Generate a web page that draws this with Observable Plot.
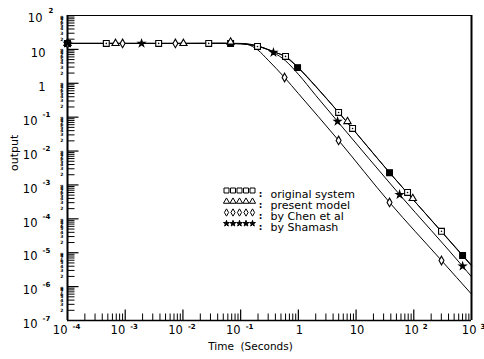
<!DOCTYPE html>
<html><head><meta charset="utf-8">
<script src="https://cdn.jsdelivr.net/npm/d3@7"></script>
<script src="https://cdn.jsdelivr.net/npm/@observablehq/plot@0.6"></script>
<style>body{margin:0;background:#fff}</style>
</head><body><div id="chart"></div>
<script>
// ---- axes / ticks ----
const xDomain = [1e-4, 1e3];
const yDomain = [1e-7, 1e2];
const xMajor = [1e-4, 1e-3, 1e-2, 1e-1, 1, 10, 100, 1000];
const xBase  = ["10", "10", "10", "10", "1", "10", "10", "10"];
const xExp   = ["-4", "-3", "-2", "-1", "", "", "2", "3"];
const yMajor = [1e2, 1e1, 1, 1e-1, 1e-2, 1e-3, 1e-4, 1e-5, 1e-6, 1e-7];
const yBase  = ["10", "10", "1", "10", "10", "10", "10", "10", "10", "10"];
const yExp   = ["2", "", "", "-1", "-2", "-3", "-4", "-5", "-6", "-7"];
const minorDigits = [2, 3, 4, 5, 6, 7, 8, 9];

// ---- series (lines) ----
const seriesNames = ["original system", "present model", "by Chen et al", "by Shamash"];
const origT = [1e-4, 0.01, 0.05, 0.1, 0.2, 0.4, 0.6, 1, 2, 5, 38, 300, 1000];
const origY = [15, 15, 15, 14.6, 12.2, 8.1, 6.2, 2.9, 0.82, 0.138, 2.3e-3, 4.3e-5, 4.3e-6];
const presT = [1e-4, 0.01, 0.05, 0.1, 0.2, 0.4, 0.6, 1, 2, 5, 40, 300, 1000];
const presY = [15, 15, 15.1, 14.8, 12.4, 8.2, 6.0, 2.8, 0.80, 0.137, 2.1e-3, 4.2e-5, 4.1e-6];
const chenT = [1e-4, 0.01, 0.05, 0.1, 0.13, 0.2, 0.3, 0.577, 1, 4.98, 38, 302, 1000];
const chenY = [15, 15, 15, 14.7, 14, 9.5, 4.8, 1.48, 0.5, 0.0206, 3.05e-4, 5.9e-6, 6.0e-7];
const shamT = [1e-4, 0.01, 0.05, 0.1, 0.2, 0.37, 0.6, 1, 2, 4.78, 56.8, 700, 1000];
const shamY = [15, 15, 15.2, 15, 12.6, 8.1, 4.6, 1.85, 0.44, 0.075, 5.2e-4, 4.0e-6, 1.95e-6];

// ---- series (markers) ----
const origMkT = [4.7e-4, 3.8e-3, 0.028, 0.196, 0.60, 4.98, 8.7, 78, 302];
const origMkY = [15, 15, 15, 12.2, 6.2, 0.138, 0.0465, 6.0e-4, 4.3e-5];
const origSolidT = [1e-4, 0.067, 0.97, 38, 701];
const origSolidY = [15, 15, 2.9, 2.3e-3, 8.3e-6];
const presMkT = [1e-4, 6.8e-4, 0.0102, 0.067, 7.1, 96];
const presMkY = [15, 15, 15, 16.5, 0.0746, 4.0e-4];
const chenMkT = [1e-4, 9.0e-4, 7.4e-3, 0.577, 4.98, 38, 302];
const chenMkY = [15, 15, 15, 1.48, 0.0206, 3.05e-4, 5.9e-6];
const shamMkT = [1e-4, 1.92e-3, 0.37, 4.78, 56.8, 701];
const shamMkY = [15, 15, 8.1, 0.075, 5.2e-4, 4.0e-6];

// ---- build tables ----
const rows = (T, Y) => T.map((t, i) => ({t, y: Y[i]}));
const xMinor = [], yMinor = [], yMinorRows = [];
for (let i = 0; i < xMajor.length - 1; i++) for (const d of minorDigits) xMinor.push(xMajor[i] * d);
for (let i = 1; i < yMajor.length; i++) for (const d of minorDigits) { yMinor.push(yMajor[i] * d); yMinorRows.push({v: yMajor[i] * d, lab: String(d)}); }
const xRows = xMajor.map((v, i) => ({v, base: xBase[i], exp: xExp[i]}));
const yRows = yMajor.map((v, i) => ({v, base: yBase[i], exp: yExp[i]}));

const FONT = "DejaVu Sans";
const L = 67, T = 15; // frame origin in px (margins)

const symbolsFor = [
  {symbol: "square", r: 3.3, fill: "white"},
  {symbol: "triangle", r: 2.7, fill: "white"},
  {symbol: "diamond", r: 2.6, fill: "white"},
  {symbol: "star", r: 2.2, fill: "black"}
];
const legendRowsY = [190, 201, 212, 223];

const legendMarks = [];
seriesNames.forEach((name, i) => {
  for (let k = 0; k < 5; k++) {
    legendMarks.push(Plot.dot([0], {frameAnchor: "top-left", dx: 226 - L + k * 6.5, dy: legendRowsY[i] - T,
      symbol: symbolsFor[i].symbol, r: symbolsFor[i].r * 0.85, fill: symbolsFor[i].fill, stroke: "black", strokeWidth: 1}));
  }
  legendMarks.push(Plot.text([":"], {frameAnchor: "top-left", dx: 260 - L, dy: legendRowsY[i] - T, text: d => d,
    fontSize: 9, fontWeight: "bold", fontFamily: FONT, textAnchor: "middle"}));
  legendMarks.push(Plot.text([name], {frameAnchor: "top-left", dx: 270 - L, dy: legendRowsY[i] - T, text: d => d,
    fontSize: 11, fontFamily: FONT, textAnchor: "start"}));
});

const lineOpts = {x: "t", y: "y", stroke: "black", strokeWidth: 1, curve: "monotone-x"};
const dotOpts = (i) => ({x: "t", y: "y", symbol: symbolsFor[i].symbol, r: symbolsFor[i].r, fill: symbolsFor[i].fill, stroke: "black", strokeWidth: 1.1});

const chart = Plot.plot({
  width: 484, height: 359,
  marginLeft: 67, marginRight: 13, marginTop: 15, marginBottom: 39,
  x: {type: "log", domain: xDomain, axis: null},
  y: {type: "log", domain: yDomain, axis: null},
  style: {fontFamily: FONT, background: "white", color: "black", overflow: "visible"},
  marks: [
    // frame
    Plot.ruleY([yDomain[1]], {stroke: "black", strokeWidth: 1.2}),
    Plot.ruleY([yDomain[0]], {stroke: "black", strokeWidth: 1.3}),
    Plot.ruleX([xDomain[0]], {stroke: "black", strokeWidth: 2}),
    Plot.ruleX([xDomain[1]], {stroke: "black", strokeWidth: 2}),
    // ticks (inward)
    Plot.vector(xMinor, {x: d => d, y: yDomain[0], length: 7, rotate: 0, anchor: "start", shape: "arrow", r: 0, stroke: "black", strokeWidth: 1, strokeLinecap: "butt"}),
    Plot.vector(xMajor.slice(1, -1), {x: d => d, y: yDomain[0], length: 11, rotate: 0, anchor: "start", shape: "arrow", r: 0, stroke: "black", strokeWidth: 1.2, strokeLinecap: "butt"}),
    Plot.vector(yMinor, {x: xDomain[0], y: d => d, length: 7, rotate: 90, anchor: "start", shape: "arrow", r: 0, stroke: "black", strokeWidth: 1, strokeLinecap: "butt"}),
    Plot.vector(yMajor.slice(1, -1), {x: xDomain[0], y: d => d, length: 11, rotate: 90, anchor: "start", shape: "arrow", r: 0, stroke: "black", strokeWidth: 1.2, strokeLinecap: "butt"}),
    // tiny minor labels on y axis
    Plot.text(yMinorRows, {y: "v", text: "lab", frameAnchor: "left", textAnchor: "end", dx: -4, fontSize: 4.5, fontFamily: FONT, fontWeight: "bold"}),
    // y tick labels
    Plot.text(yRows.filter(d => d.exp.startsWith("-")), {y: "v", text: "base", frameAnchor: "left", textAnchor: "end", dx: -30, dy: 4, fontSize: 11.5}),
    Plot.text(yRows.filter(d => d.exp.startsWith("-")), {y: "v", text: "exp", frameAnchor: "left", textAnchor: "start", dx: -25, dy: -2, fontSize: 7, fontWeight: "bold"}),
    Plot.text(yRows.filter(d => d.exp && !d.exp.startsWith("-")), {y: "v", text: "base", frameAnchor: "left", textAnchor: "end", dx: -25, dy: 3, fontSize: 11.5}),
    Plot.text(yRows.filter(d => d.exp && !d.exp.startsWith("-")), {y: "v", text: "exp", frameAnchor: "left", textAnchor: "start", dx: -19, dy: -5, fontSize: 7, fontWeight: "bold"}),
    Plot.text(yRows.filter(d => !d.exp), {y: "v", text: "base", frameAnchor: "left", textAnchor: "end", dx: -22, dy: 4, fontSize: 11.5}),
    // x tick labels
    Plot.text(xRows.filter(d => d.exp.startsWith("-")), {x: "v", text: "base", frameAnchor: "bottom", textAnchor: "end", dx: 0, dy: 13, fontSize: 11.5}),
    Plot.text(xRows.filter(d => d.exp.startsWith("-")), {x: "v", text: "exp", frameAnchor: "bottom", textAnchor: "start", dx: 5, dy: 8, fontSize: 7, fontWeight: "bold"}),
    Plot.text(xRows.filter(d => d.exp && !d.exp.startsWith("-")), {x: "v", text: "base", frameAnchor: "bottom", textAnchor: "end", dx: 5, dy: 13, fontSize: 11.5}),
    Plot.text(xRows.filter(d => d.exp && !d.exp.startsWith("-")), {x: "v", text: "exp", frameAnchor: "bottom", textAnchor: "start", dx: 9, dy: 8, fontSize: 7, fontWeight: "bold"}),
    Plot.text(xRows.filter(d => !d.exp), {x: "v", text: "base", frameAnchor: "bottom", textAnchor: "middle", dx: 1, dy: 13, fontSize: 11.5}),
    // axis titles
    Plot.text(["Time  (Seconds)"], {text: d => d, frameAnchor: "bottom", dx: -19, dy: 29, fontSize: 10.5}),
    Plot.text(["output"], {text: d => d, frameAnchor: "left", dx: -53, dy: 3, rotate: -90, fontSize: 11}),
    // curves
    Plot.line(rows(origT, origY), lineOpts),
    Plot.line(rows(presT, presY), lineOpts),
    Plot.line(rows(chenT, chenY), lineOpts),
    Plot.line(rows(shamT, shamY), lineOpts),
    // markers
    Plot.dot(rows(origMkT, origMkY), dotOpts(0)),
    Plot.dot(rows(origMkT, origMkY), {x: "t", y: "y", r: 0.8, fill: "black"}),
    Plot.dot(rows(origSolidT, origSolidY), {...dotOpts(0), fill: "black"}),
    Plot.dot(rows(presMkT, presMkY), dotOpts(1)),
    Plot.dot(rows(chenMkT, chenMkY), dotOpts(2)),
    Plot.dot(rows(shamMkT, shamMkY), dotOpts(3)),
    ...legendMarks
  ]
});
document.getElementById("chart").appendChild(chart);
</script>
</body></html>
